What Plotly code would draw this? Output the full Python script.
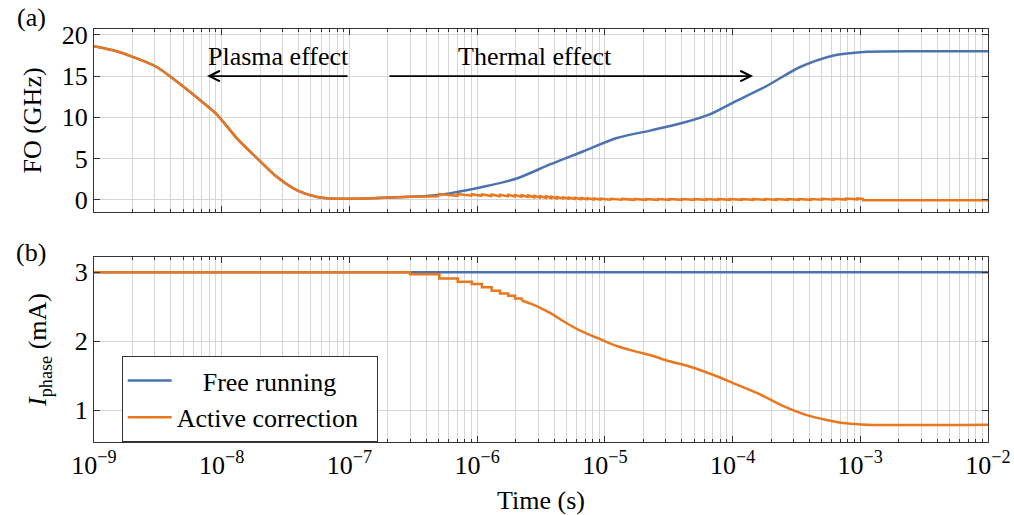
import plotly.graph_objects as go

BLUE = "#4C72B0"
ORANGE = "#E8771E"
GRID = "#D6D6D6"
FONT = "Liberation Serif"

# ---------------- data ----------------
t_fo_free = [1e-9, 1.5e-9, 2.03e-9, 3.1e-9, 4.4e-9, 6.4e-9, 9.1e-9, 1.31e-8, 1.88e-8,
             2.7e-8, 3.86e-8, 5.5e-8, 7.9e-8, 1.45e-7, 3.0e-7, 4.5e-7, 6.1e-7, 1.12e-6,
             2.04e-6, 3.72e-6, 6.8e-6, 1.24e-5, 2.26e-5, 4.1e-5, 6.7e-5, 1.01e-4,
             1.85e-4, 3.38e-4, 6.2e-4, 1e-3, 3e-3, 1e-2]
fo_free = [18.6, 18.0, 17.3, 16.1, 14.4, 12.4, 10.4, 7.5, 5.1,
           2.8, 1.2, 0.4, 0.15, 0.2, 0.38, 0.55, 0.8, 1.6,
           2.6, 4.3, 5.9, 7.5, 8.4, 9.35, 10.4, 11.8,
           13.8, 16.1, 17.5, 17.9, 18.0, 18.0]

# active correction, smooth plasma part
t_fo_act_a = [1e-9, 1.5e-9, 2.03e-9, 3.1e-9, 4.4e-9, 6.4e-9, 9.1e-9, 1.31e-8, 1.88e-8,
              2.7e-8, 3.86e-8, 5.5e-8, 7.9e-8, 1.45e-7, 3.0e-7, 5.0e-7]
fo_act_a = [18.6, 18.0, 17.3, 16.1, 14.4, 12.4, 10.4, 7.5, 5.1,
            2.8, 1.2, 0.4, 0.15, 0.2, 0.38, 0.45]
# active correction, stepped correction part
t_fo_act_b = [5.0e-7,
              5.06e-7, 7.0e-7, 7.05e-7, 9.0e-7, 9.07e-7, 1.08e-6, 1.09e-6, 1.29e-6,
              1.30e-6, 1.50e-6, 1.51e-6, 1.74e-6, 1.75e-6, 1.97e-6, 1.98e-6, 2.22e-6,
              2.23e-6, 2.5e-6, 2.51e-6, 2.8e-6, 2.81e-6, 3.1e-6, 3.11e-6, 3.45e-6,
              3.46e-6, 3.8e-6, 3.81e-6, 4.2e-6, 4.21e-6, 4.7e-6, 4.71e-6, 5.2e-6,
              5.21e-6, 5.8e-6, 5.81e-6, 6.5e-6, 6.51e-6, 7.3e-6, 7.31e-6, 8.2e-6,
              8.21e-6, 9.2e-6, 9.21e-6, 1.1e-5, 1.11e-5, 1.35e-5, 1.36e-5, 1.7e-5,
              1.71e-5, 2.1e-5, 2.11e-5, 2.6e-5, 2.61e-5, 3.2e-5, 3.21e-5, 4.0e-5,
              4.01e-5, 5.0e-5, 5.01e-5, 6.2e-5, 6.21e-5, 7.7e-5, 7.71e-5, 9.5e-5,
              9.51e-5, 1.18e-4, 1.181e-4, 1.45e-4, 1.451e-4, 1.8e-4, 1.801e-4, 2.2e-4,
              2.201e-4, 2.7e-4, 2.701e-4, 3.3e-4, 3.301e-4, 4.1e-4, 4.101e-4, 5.0e-4,
              5.001e-4, 6.2e-4, 6.201e-4, 7.7e-4, 7.701e-4, 9.5e-4, 9.501e-4, 1.05e-3,
              1.051e-3, 1e-2]
fo_act_b = [0.45,
            0.72, 0.5, 0.72, 0.52, 0.7, 0.5, 0.68, 0.48,
            0.66, 0.46, 0.64, 0.44, 0.62, 0.42, 0.6, 0.4,
            0.58, 0.36, 0.55, 0.33, 0.5, 0.3, 0.48, 0.27,
            0.45, 0.24, 0.4, 0.2, 0.36, 0.18, 0.33, 0.15,
            0.3, 0.12, 0.26, 0.1, 0.24, 0.08, 0.2, 0.06,
            0.18, 0.05, 0.16, 0.04, 0.14, 0.03, 0.13, 0.02,
            0.12, 0.02, 0.12, 0.02, 0.12, 0.02, 0.12, 0.02,
            0.12, 0.02, 0.12, 0.02, 0.12, 0.02, 0.12, 0.02,
            0.12, 0.02, 0.12, 0.02, 0.12, 0.02, 0.12, 0.02,
            0.12, 0.02, 0.12, 0.02, 0.12, 0.02, 0.12, 0.03,
            0.14, 0.04, 0.15, 0.05, 0.17, 0.08, 0.2, 0.12,
            -0.02, -0.02]

t_i_free = [1e-9, 1e-2]
i_free = [3.0, 3.0]

# active correction current: early discrete steps
t_i_act_a = [1e-9, 2.98e-7, 2.98e-7, 5.06e-7, 5.06e-7, 7.05e-7, 7.05e-7, 9.07e-7, 9.07e-7,
             1.09e-6, 1.09e-6, 1.30e-6, 1.30e-6, 1.51e-6, 1.51e-6, 1.75e-6, 1.75e-6,
             1.98e-6, 1.98e-6, 2.23e-6, 2.23e-6]
i_act_a = [3.0, 3.0, 2.97, 2.97, 2.91, 2.91, 2.86, 2.86, 2.83,
           2.83, 2.78, 2.78, 2.73, 2.73, 2.69, 2.69, 2.66,
           2.66, 2.62, 2.62, 2.59]
# active correction current: dense fine steps (smooth envelope)
t_i_act_b = [2.23e-6, 2.75e-6, 3.72e-6, 5.03e-6, 6.8e-6,
             9.2e-6, 1.24e-5, 1.67e-5, 2.26e-5, 3.05e-5, 4.65e-5, 7.1e-5, 1.08e-4,
             1.64e-4, 2.5e-4, 3.81e-4, 5.47e-4, 7.8e-4, 1.12e-3, 1e-2]
i_act_b = [2.59, 2.53, 2.41, 2.26, 2.13,
           2.03, 1.93, 1.86, 1.80, 1.72, 1.63, 1.51, 1.37,
           1.23, 1.06, 0.93, 0.86, 0.81, 0.79, 0.79]

x_tick_vals = [1e-9, 1e-8, 1e-7, 1e-6, 1e-5, 1e-4, 1e-3, 1e-2]
x_tick_text = ["10<sup>−9</sup>", "10<sup>−8</sup>", "10<sup>−7</sup>", "10<sup>−6</sup>",
               "10<sup>−5</sup>", "10<sup>−4</sup>", "10<sup>−3</sup>", "10<sup>−2</sup>"]
x_minor_vals = [m * 10.0 ** e for e in range(-9, -2) for m in range(2, 10)]
fo_ticks = [0, 5, 10, 15, 20]
i_ticks = [1, 2, 3]

# ---------------- figure ----------------
fig = go.Figure()
fig.add_trace(go.Scatter(x=t_fo_free, y=fo_free, mode="lines", xaxis="x", yaxis="y",
                         line=dict(color=BLUE, width=2.5, shape="spline", smoothing=0.8),
                         showlegend=False, legendgroup="free", name="Free running"))
fig.add_trace(go.Scatter(x=t_fo_act_a, y=fo_act_a, mode="lines", xaxis="x", yaxis="y",
                         line=dict(color=ORANGE, width=2.5, shape="spline", smoothing=0.8),
                         showlegend=False, legendgroup="act", name="Active correction"))
fig.add_trace(go.Scatter(x=t_fo_act_b, y=fo_act_b, mode="lines", xaxis="x", yaxis="y",
                         line=dict(color=ORANGE, width=2.5),
                         showlegend=False, legendgroup="act", name="Active correction"))
fig.add_trace(go.Scatter(x=t_i_free, y=i_free, mode="lines", xaxis="x2", yaxis="y2",
                         line=dict(color=BLUE, width=2.5), legendgroup="free",
                         name="\u00a0\u00a0\u00a0\u00a0Free running"))
fig.add_trace(go.Scatter(x=t_i_act_a, y=i_act_a, mode="lines", xaxis="x2", yaxis="y2",
                         line=dict(color=ORANGE, width=2.5), legendgroup="act",
                         name="Active correction\u00a0\u00a0"))
fig.add_trace(go.Scatter(x=t_i_act_b, y=i_act_b, mode="lines", xaxis="x2", yaxis="y2",
                         line=dict(color=ORANGE, width=2.5, shape="spline", smoothing=0.8),
                         legendgroup="act", showlegend=False, name="Active correction"))

common_x = dict(type="log", range=[-9, -2], tickmode="array", tickvals=x_tick_vals,
                showgrid=True, gridcolor=GRID, gridwidth=1, ticks="inside", ticklen=6,
                tickcolor="#333", showline=True, linecolor="#333", linewidth=1,
                mirror="allticks", zeroline=False, automargin=False,
                minor=dict(tickmode="array", tickvals=x_minor_vals, showgrid=True,
                           gridcolor=GRID, gridwidth=1, ticks="inside", ticklen=3,
                           tickcolor="#333"))
common_y = dict(showgrid=True, gridcolor=GRID, gridwidth=1, ticks="inside", ticklen=6,
                tickcolor="#333", showline=True, linecolor="#333", linewidth=1,
                mirror="allticks", zeroline=False, tickfont=dict(size=26),
                automargin=False)

fig.update_layout(
    width=1014, height=515,
    margin=dict(l=94, r=26, t=29, b=73),
    plot_bgcolor="white", paper_bgcolor="white",
    font=dict(family=FONT, size=26, color="black"),
    xaxis=dict(common_x, domain=[0, 1], anchor="y", showticklabels=False),
    xaxis2=dict(common_x, domain=[0, 1], anchor="y2", matches="x", ticktext=x_tick_text,
                tickfont=dict(size=26),
                title=dict(text="Time (s)", font=dict(size=26), standoff=13)),
    yaxis=dict(common_y, domain=[0.557, 1.0], range=[-1.45, 20.7], tickvals=fo_ticks,
               title=dict(text="FO (GHz)", font=dict(size=26), standoff=12)),
    yaxis2=dict(common_y, domain=[0.0, 0.448], range=[0.54, 3.22], tickvals=i_ticks,
                title=dict(text="<i>I</i><sub>phase</sub> (mA)", font=dict(size=26),
                           standoff=20)),
    legend=dict(x=0.031, y=0.0, xanchor="left", yanchor="bottom",
                bgcolor="white", bordercolor="#333", borderwidth=1,
                font=dict(size=26), tracegroupgap=0, itemwidth=44),
)

# arrows (log axis: annotation coordinates are log10 values)
fig.add_annotation(xref="x", yref="y", axref="x", ayref="y", x=-8.115, y=15,
                   ax=-7.003, ay=15, text="", showarrow=True, arrowhead=5,
                   arrowsize=1.3, arrowwidth=1.6, arrowcolor="black", standoff=0)
fig.add_annotation(xref="x", yref="y", axref="x", ayref="y", x=-3.839, y=15,
                   ax=-6.698, ay=15, text="", showarrow=True, arrowhead=5,
                   arrowsize=1.3, arrowwidth=1.6, arrowcolor="black", standoff=0)
fig.add_annotation(xref="x", yref="y", x=-7.559, y=17.4, text="Plasma effect",
                   showarrow=False, font=dict(size=26))
fig.add_annotation(xref="x", yref="y", x=-5.547, y=17.4, text="Thermal effect",
                   showarrow=False, font=dict(size=26))
# panel labels
fig.add_annotation(xref="paper", yref="paper", x=-0.07, y=1.029, text="(a)",
                   xanchor="center", yanchor="middle", showarrow=False,
                   font=dict(size=26))
fig.add_annotation(xref="paper", yref="paper", x=-0.07, y=0.46, text="(b)",
                   xanchor="center", yanchor="middle", showarrow=False,
                   font=dict(size=26))

fig.write_html("out.html")
